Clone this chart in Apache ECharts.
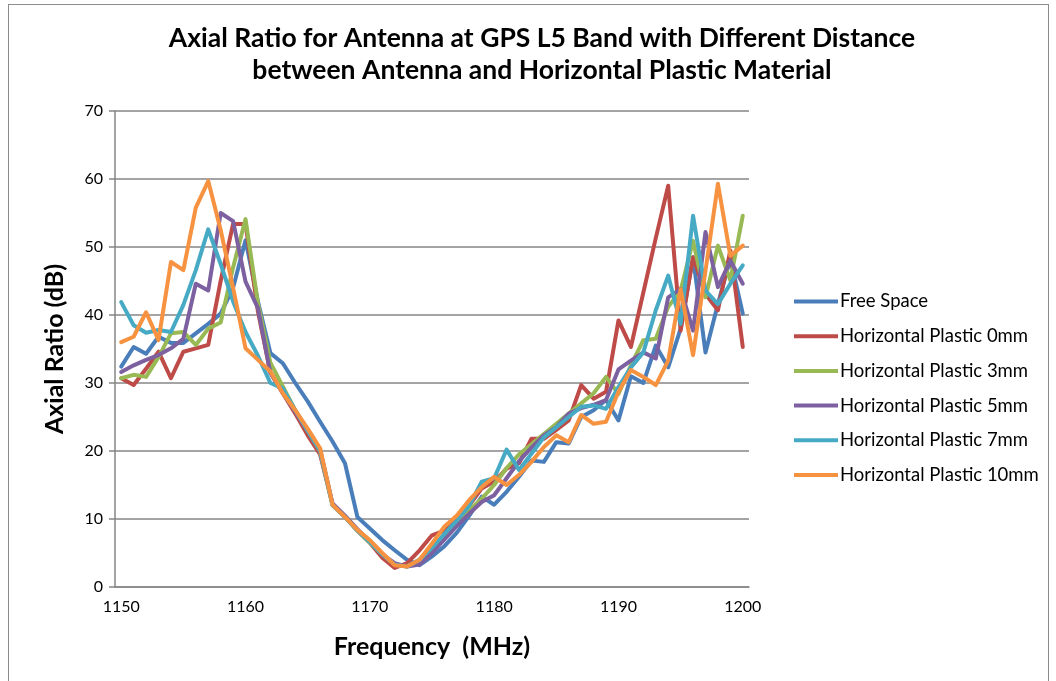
<!DOCTYPE html>
<html><head><meta charset="utf-8">
<script src="https://cdn.jsdelivr.net/npm/echarts@6/dist/echarts.min.js"></script>
<style>
html,body{margin:0;padding:0;background:#fff;}
#frame{position:absolute;left:8px;top:4px;width:1041px;height:700px;border:1px solid #8c8c8c;box-sizing:border-box;}
#c{position:absolute;left:0;top:0;width:1056px;height:681px;}
</style></head><body>
<div id="frame"></div>
<div id="c"></div>
<script>
const frequencies = [];
for (let f = 1150; f <= 1200; f++) frequencies.push(String(f));

const seriesNames = ["Free Space","Horizontal Plastic 0mm","Horizontal Plastic 3mm","Horizontal Plastic 5mm","Horizontal Plastic 7mm","Horizontal Plastic 10mm"];

const freeSpace = [32.4,35.3,34.3,36.8,35.9,35.9,37.3,38.7,40.2,44,51,42,34.4,32.9,30,27.3,24.3,21.4,18.2,10.3,8.6,6.9,5.4,4.0,3.2,4.5,6.0,8.0,10.5,13.3,12.1,14.0,16.2,18.6,18.4,21.3,21.1,25.0,26.0,27.5,24.5,31.0,30.0,35.5,32.3,38,48.5,34.5,41.6,48.3,40.2];
const plastic0 = [30.7,29.7,32.1,34.6,30.7,34.6,35.1,35.6,45,53.4,53.4,40.5,31.5,28.5,25.5,22.3,19.5,12.1,10.3,8.3,6.5,4.3,2.8,3.5,5.4,7.6,8.3,10.0,12.0,14.5,15.5,17.4,18.2,21.8,21.8,23.1,24.5,29.7,27.7,28.7,39.2,35.3,43.3,51.3,59.0,37.7,48.5,43.1,40.7,49.5,35.3];
const plastic3 = [30.7,31.2,30.9,33.8,37.3,37.5,35.6,38.0,38.9,47,54.1,41.7,33,29.5,26,23,20,12.0,10.3,8.3,6.5,4.8,3.3,3.0,4.0,5.8,7.5,9.5,11.3,13.0,15.0,17.5,19.5,21.0,22.5,24.0,25.5,27.0,28.5,30.9,28.4,32.6,36.3,36.5,41.2,43.6,50.9,42.6,50.2,45.1,54.6];
const plastic5 = [31.6,32.6,33.4,34.1,35.1,36.5,44.6,43.6,55,53.8,44.9,41,31.5,28.5,25.8,23,20.2,12.3,10.5,8.5,6.7,4.8,3.5,3.0,3.3,5.0,7.0,9.0,10.8,12.5,13.5,16.0,18.5,20.5,22.3,23.5,25.5,26.3,26.8,27.5,32.0,33.3,34.5,33.6,42.6,43.8,37.7,52.2,44.1,48.0,44.6];
const plastic7 = [41.9,38.5,37.4,37.8,37.5,41.5,46.6,52.6,47.5,42,37.5,34,30.0,29.2,26,23,20,12.0,10.3,8.3,6.6,4.8,3.3,3.0,4.0,5.8,7.8,9.8,12.0,15.5,16.0,20.2,17.2,19.6,22.0,23.5,25.0,26.5,26.7,26.2,29.4,32.3,34.5,40.7,45.8,38.7,54.6,43.6,41.6,44.6,47.3];
const plastic10 = [36.0,36.8,40.4,36.3,47.8,46.6,55.8,59.7,52.5,44,35.1,33.4,31.7,28.5,26.0,23.3,20.4,12.1,10.3,8.4,6.9,5.0,3.2,3.0,4.0,6.4,8.9,10.5,12.8,14.7,16.2,15.0,16.5,18.4,20.6,22.3,21.3,25.3,24.0,24.3,28.7,31.9,30.9,29.7,33.3,43.8,34.1,46.5,59.3,48.7,50.2];

const allData = [freeSpace, plastic0, plastic3, plastic5, plastic7, plastic10];
const colors = ["#4A7EBB","#BE4B48","#98B954","#7D60A0","#46AAC5","#F69240"];

const chart = echarts.init(document.getElementById('c'), null, {renderer:'canvas'});
chart.setOption({
  animation:false,
  backgroundColor:'transparent',
  color: colors,
  title:{
    text:'Axial Ratio for Antenna at GPS L5 Band with Different Distance\nbetween Antenna and Horizontal Plastic Material',
    left:537, top:17, textAlign:'center',
    textStyle:{fontFamily:'Lato', fontWeight:'bold', fontSize:26.5, color:'#000', lineHeight:32}
  },
  legend:{
    orient:'vertical', left:789, top:287, itemGap:15.7,
    itemWidth:44, itemHeight:4, icon:'rect',
    textStyle:{fontFamily:'Lato', fontSize:18.5, color:'#000', padding:[0,0,0,-3]},
    data: seriesNames
  },
  grid:{left:115, right:307, top:111, bottom:94, containLabel:false},
  xAxis:{
    type:'category', data:frequencies, boundaryGap:true,
    name:'Frequency  (MHz)', nameLocation:'middle', nameGap:47,
    nameTextStyle:{fontFamily:'Lato', fontWeight:'bold', fontSize:25, color:'#000'},
    axisLine:{lineStyle:{color:'#868686', width:1.5}},
    axisTick:{show:false},
    axisLabel:{interval:9, color:'#000', fontFamily:'Lato', fontSize:16, margin:12},
    splitLine:{show:false}
  },
  yAxis:{
    type:'value', min:0, max:70, interval:10,
    name:'Axial Ratio (dB)', nameLocation:'middle', nameGap:48,
    nameTextStyle:{fontFamily:'Lato', fontWeight:'bold', fontSize:25, color:'#000'},
    axisLine:{show:true, lineStyle:{color:'#868686', width:1.5}},
    axisTick:{show:true, length:6, lineStyle:{color:'#868686', width:1.5}},
    axisLabel:{color:'#000', fontFamily:'Lato', fontSize:16, margin:12},
    splitLine:{lineStyle:{color:'#868686', width:1.5}}
  },
  series: seriesNames.map((n,i)=>({
    name:n, type:'line', data:allData[i], symbol:'none', smooth:false,
    lineStyle:{width:4, color:colors[i], cap:'round', join:'round'},
    itemStyle:{color:colors[i]}
  }))
});
</script>
</body></html>
